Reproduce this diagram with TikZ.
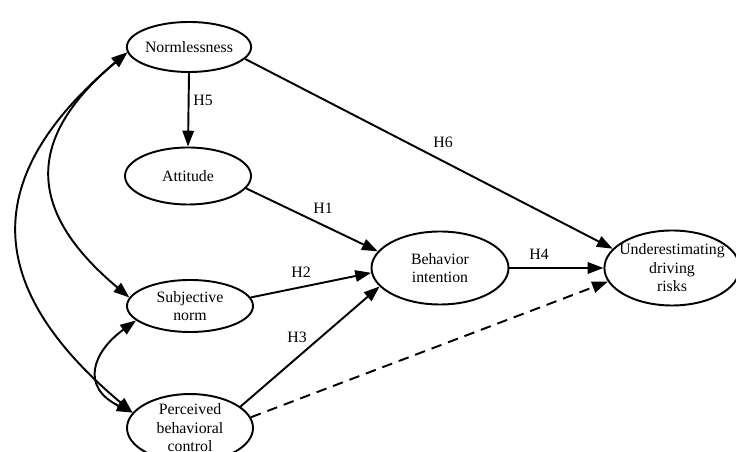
\documentclass[tikz,border=0pt]{standalone}
\usepackage{fontspec}
\setmainfont{Liberation Serif}
\usetikzlibrary{arrows.meta, shapes.geometric}

\tikzset{
  construct/.style={draw, ellipse, line width=1.1pt, inner sep=0pt,
    align=center, font=\fontsize{9}{10.5}\selectfont},
  path/.style={line width=1.1pt, -{Triangle[length=9pt, width=6.5pt]}},
  corr/.style={line width=1.1pt,
    {Triangle[length=9pt, width=6.5pt]}-{Triangle[length=9pt, width=6.5pt]}},
  hyp/.style={font=\fontsize{9}{10.5}\selectfont, inner sep=1pt}
}

\begin{document}
\begin{tikzpicture}
  \useasboundingbox (0,0) rectangle (14.72,9.04);

  % Constructs
  \node[construct, minimum width=2.48cm, minimum height=1.0cm] (norm) at (3.78,8.10) {Normlessness};
  \node[construct, minimum width=2.52cm, minimum height=1.14cm] (att) at (3.76,5.52) {Attitude};
  \node[construct, minimum width=2.52cm, minimum height=1.04cm] (subj) at (3.80,2.92) {Subjective\\norm};
  \node[construct, minimum width=2.52cm, minimum height=1.2cm] (pbc) at (3.80,0.48) {Perceived\\behavioral\\control};
  \node[construct, minimum width=2.74cm, minimum height=1.46cm] (bi) at (8.80,3.68) {Behavior\\intention};
  \node[construct, inner xsep=-2.8pt, minimum width=2.56cm, minimum height=1.5cm] (risk) at (13.44,3.68) {Underestimating\\driving\\risks};

  % Hypothesised paths
  \draw[path] (norm.south) -- (att.north);
  \draw[path] (norm.-12) -- (risk.162);
  \draw[path] (att.-12) -- (bi.165);
  \draw[path] (subj.8) -- (bi.184);
  \draw[path] (pbc.23) -- (bi.197);
  \draw[path] (bi.east) -- (risk.west);
  \draw[path, dash pattern=on 6pt off 4pt] (pbc.10) -- (risk.192);

  % Path labels
  \node[hyp] (h5) at (4.06,7.04) {H5};
  \node[hyp] (h6) at (8.86,6.20) {H6};
  \node[hyp] (h1) at (6.46,4.88) {H1};
  \node[hyp] (h2) at (6.02,3.60) {H2};
  \node[hyp] (h3) at (5.94,2.30) {H3};
  \node[hyp] (h4) at (10.78,3.96) {H4};

  % Correlations
  \draw[corr] (norm.185) to[out=220, in=140, looseness=1.4] (subj.172);
  \draw[corr] (norm.185) to[out=220, in=140, looseness=1.38] (pbc.165);
  \draw[corr] (subj.195) .. controls (1.85,2.0) and (1.6,1.3) .. (pbc.165);
\end{tikzpicture}
\end{document}
